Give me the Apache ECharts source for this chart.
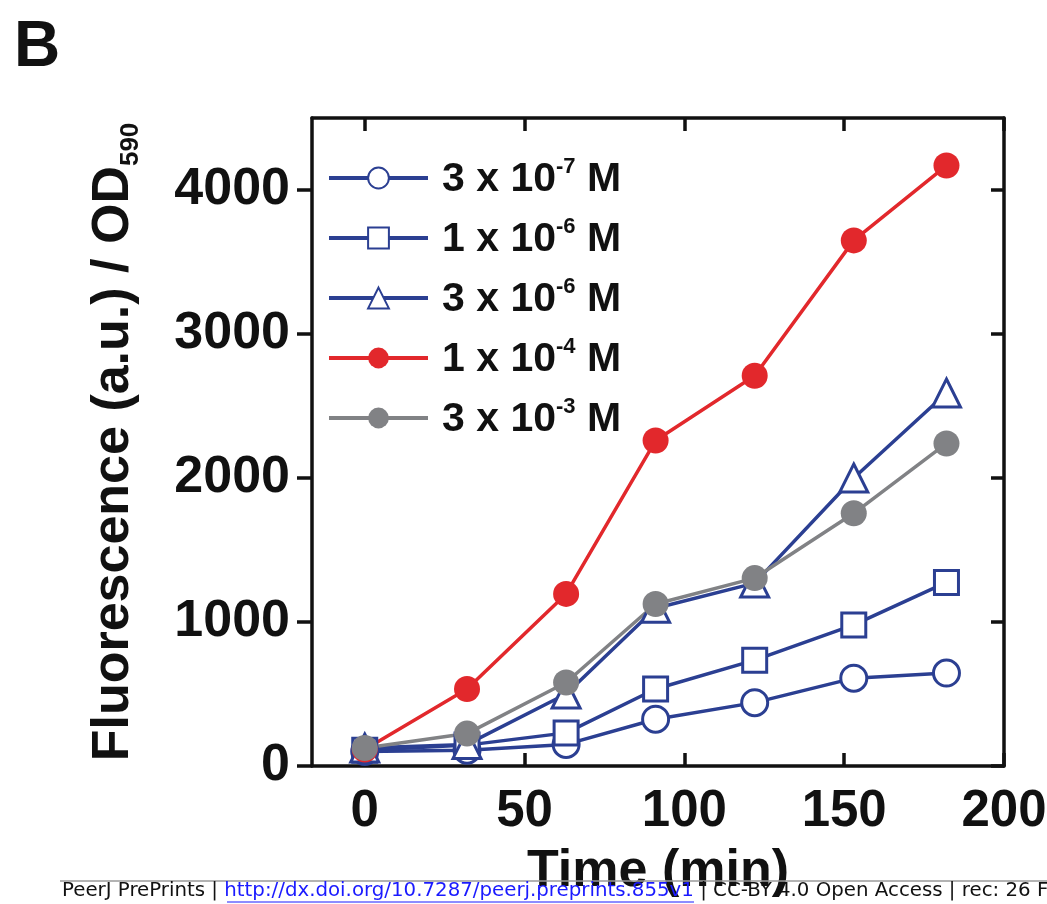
<!DOCTYPE html>
<html>
<head>
<meta charset="utf-8">
<script src="https://cdn.jsdelivr.net/npm/echarts@6/dist/echarts.min.js"></script>
<style>
html,body{margin:0;padding:0;background:#fff;overflow:hidden;}
#chart{width:1047px;height:904px;}
</style>
</head>
<body>
<div id="chart"></div>
<script>
// ---- data ----
var times = [0, 32, 63, 91, 122, 153, 182];
var s_3e7 = [100, 110, 150, 325, 440, 610, 645];      // 3 x 10^-7 M (open circles)
var s_1e6 = [110, 145, 230, 535, 735, 980, 1275];     // 1 x 10^-6 M (open squares)
var s_3e6 = [125, 150, 500, 1095, 1270, 2000, 2590];  // 3 x 10^-6 M (open triangles)
var s_1e4 = [115, 535, 1195, 2260, 2710, 3650, 4170]; // 1 x 10^-4 M (red filled)
var s_3e3 = [125, 225, 580, 1125, 1305, 1755, 2240];  // 3 x 10^-3 M (gray filled)
var seriesNames = ['3 x 10^-7 M', '1 x 10^-6 M', '3 x 10^-6 M', '1 x 10^-4 M', '3 x 10^-3 M'];
var xTicks = [0, 50, 100, 150, 200];
var yTicks = [0, 1000, 2000, 3000, 4000];

function pairs(ys){ return times.map(function(t,i){ return [t, ys[i]]; }); }

var BLUE = '#2b3f92', RED = '#e2282c', GRAY = '#818285';
var FONT = 'Liberation Sans, Arial, sans-serif';
var chart = echarts.init(document.getElementById('chart'), null, {renderer:'canvas'});

function mk(name, data, color, symbol, filled){
  return {
    name: name, type: 'line', data: pairs(data),
    symbol: symbol, symbolSize: symbol === 'triangle' ? 28 : (symbol === 'rect' ? 24 : 26),
    lineStyle: {color: color, width: 3.5},
    itemStyle: {color: filled ? color : '#ffffff', borderColor: color, borderWidth: filled ? 0 : 3},
    emphasis: {disabled: true},
    z: 2
  };
}

var option = {
  animation: false,
  backgroundColor: '#ffffff',
  grid: {left: 312, top: 118, right: 43, bottom: 138, containLabel: false, outerBoundsMode: 'none'},
  legend: {
    left: 327, top: 156, orient: 'vertical', padding: 0,
    itemWidth: 99, itemHeight: 26, itemGap: 16,
    lineStyle: {width: 4},
    formatter: function(n){
      var p = n.split('^');
      var rest = p[1].split(' ');
      return '{n|' + p[0] + '}{s|' + rest[0] + '}{n| ' + rest[1] + '}';
    },
    textStyle: {
      padding: [0,0,0,9],
      rich: {
        n: {fontFamily: FONT, fontWeight: 'bold', fontSize: 41, color: '#111', lineHeight: 44, verticalAlign: 'bottom'},
        s: {fontFamily: FONT, fontWeight: 'bold', fontSize: 22, color: '#111', lineHeight: 44, verticalAlign: 'top', padding:[0,0,14,0]}
      }
    },
    data: seriesNames
  },
  xAxis: [{
    type: 'value', min: -16.5, max: 200, position: 'bottom',
    axisLine: {show: true, onZero: false, lineStyle: {color: '#111', width: 3.5}},
    axisTick: {show: true, inside: true, length: 13, lineStyle: {color: '#111', width: 3.5}, customValues: xTicks},
    axisLabel: {margin: 20, customValues: xTicks, fontFamily: FONT, fontWeight: 'bold', fontSize: 51, color: '#111'},
    splitLine: {show: false},
    name: 'Time (min)', nameLocation: 'middle', nameGap: 80,
    nameTextStyle: {fontFamily: FONT, fontWeight: 'bold', fontSize: 52, color: '#111'}
  },{
    type: 'value', min: -16.5, max: 200, position: 'top',
    axisLine: {show: true, onZero: false, lineStyle: {color: '#111', width: 3.5}},
    axisTick: {show: true, inside: true, length: 13, lineStyle: {color: '#111', width: 3.5}, customValues: xTicks},
    axisLabel: {show: false}, splitLine: {show: false}
  }],
  yAxis: [{
    type: 'value', min: 0, max: 4500, position: 'left',
    axisLine: {show: true, onZero: false, lineStyle: {color: '#111', width: 3.5}},
    axisTick: {show: true, inside: false, length: 15, lineStyle: {color: '#111', width: 3.5}, customValues: yTicks},
    axisLabel: {margin: 22, customValues: yTicks, formatter: function(v){ return String(v); }, fontFamily: FONT, fontWeight: 'bold', fontSize: 52, color: '#111'},
    splitLine: {show: false},
    name: '{m|Fluorescence (a.u.) / OD}{sub|590}', nameLocation: 'middle', nameGap: 168, nameRotate: 90,
    nameTextStyle: {
      rich: {
        m: {fontFamily: FONT, fontWeight: 'bold', fontSize: 52, color: '#111', lineHeight: 56, verticalAlign: 'top'},
        sub: {fontFamily: FONT, fontWeight: 'bold', fontSize: 26, color: '#111', lineHeight: 56, verticalAlign: 'bottom', padding:[16,0,0,0]}
      }
    }
  },{
    type: 'value', min: 0, max: 4500, position: 'right',
    axisLine: {show: true, onZero: false, lineStyle: {color: '#111', width: 3.5}},
    axisTick: {show: true, inside: true, length: 13, lineStyle: {color: '#111', width: 3.5}, customValues: yTicks},
    axisLabel: {show: false}, splitLine: {show: false}
  }],
  series: [
    mk(seriesNames[0], s_3e7, BLUE, 'circle', false),
    mk(seriesNames[1], s_1e6, BLUE, 'rect', false),
    mk(seriesNames[2], s_3e6, BLUE, 'triangle', false),
    mk(seriesNames[3], s_1e4, RED, 'circle', true),
    mk(seriesNames[4], s_3e3, GRAY, 'circle', true)
  ],
  graphic: [
    {type: 'text', left: 14, top: 16, style: {text: 'B', fontFamily: FONT, fontWeight: 'bold', fontSize: 64, fill: '#111'}},
    {type: 'line', shape: {x1: 60, y1: 881, x2: 1047, y2: 881}, style: {stroke: '#9a9a9a', lineWidth: 1.5}, z: 100},
    {type: 'text', left: 62, top: 881, z: 100, style: {
      text: '{k|PeerJ PrePrints | }{u|http://dx.doi.org/10.7287/peerj.preprints.855v1}{k| | CC-BY 4.0 Open Access | rec: 26 Feb 2015, publ: 26 Feb 2015}',
      rich: {
        k: {fontFamily: 'DejaVu Sans', fontSize: 19.8, fill: '#111'},
        u: {fontFamily: 'DejaVu Sans', fontSize: 19.8, fill: '#1a1aff'}
      }
    }},
    {type: 'line', shape: {x1: 227, y1: 902, x2: 694, y2: 902}, style: {stroke: '#1a1aff', lineWidth: 1}, z: 100}
  ]
};
chart.setOption(option);
</script>
</body>
</html>
